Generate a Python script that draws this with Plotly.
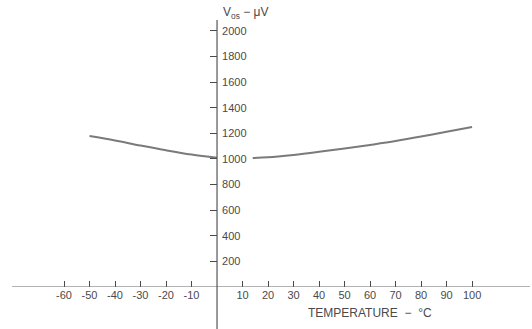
import plotly.graph_objects as go

# Data
temperature = [-50, -40, -30, -20, -10, 0, None, 14, 20, 30, 40, 50, 60, 70, 80, 90, 100]
vos_uv = [1180, 1145, 1105, 1068, 1035, 1010, None, 1008, 1013, 1032, 1056, 1082, 1110, 1140, 1175, 1213, 1250]

x_ticks = [-60, -50, -40, -30, -20, -10, 10, 20, 30, 40, 50, 60, 70, 80, 90, 100]
y_ticks = [200, 400, 600, 800, 1000, 1200, 1400, 1600, 1800, 2000]

x_range = [-85.1, 123.5]
y_range = [0, 2242]

ink = "#4a4a4a"
fam = "Liberation Sans, Arial, sans-serif"
font = dict(family=fam, size=11, color=ink)

fig = go.Figure()
fig.add_trace(go.Scatter(
    x=temperature, y=vos_uv, mode="lines",
    line=dict(color="#7a7a7a", width=2, shape="spline", smoothing=1.0),
    connectgaps=False, showlegend=False, cliponaxis=False,
))

ypos = (0 - x_range[0]) / (x_range[1] - x_range[0])

fig.update_layout(
    width=532, height=329,
    margin=dict(l=0, r=0, t=0, b=42),
    paper_bgcolor="white", plot_bgcolor="white",
    font=font,
    xaxis=dict(
        range=x_range, tickvals=x_ticks, ticktext=[str(v) for v in x_ticks],
        ticks="inside", ticklen=6, tickcolor=ink, tickwidth=1,
        showgrid=False, zeroline=False, showline=False,
        tickfont=font,
    ),
    yaxis=dict(
        range=y_range, tickvals=y_ticks, ticktext=[str(v) for v in y_ticks],
        anchor="free", position=ypos, side="right",
        ticks="inside", ticklen=7, tickcolor=ink, tickwidth=1,
        ticklabelstandoff=4,
        showgrid=False, zeroline=False, showline=False,
        tickfont=font,
    ),
    shapes=[
        # horizontal axis line
        dict(type="line", xref="paper", yref="y", x0=12/532, x1=530/532, y0=0, y1=0,
             line=dict(color="#666666", width=1.2)),
        # vertical axis line
        dict(type="line", xref="x", yref="paper", x0=0, x1=0,
             y0=(287-329)/287, y1=(287-20)/287,
             line=dict(color="#555555", width=1.2)),
    ],
    annotations=[
        dict(text="V<sub>os</sub> − μV", xref="x", yref="paper", x=1.5, y=(287-13)/287,
             xanchor="left", yanchor="middle", showarrow=False,
             font=dict(family=fam, size=12, color=ink)),
        dict(text="TEMPERATURE  −  °C", xref="x", yref="paper", x=60, y=(287-313)/287,
             xanchor="center", yanchor="middle", showarrow=False,
             font=dict(family=fam, size=12, color=ink)),
    ],
)

fig.write_html("out.html")
